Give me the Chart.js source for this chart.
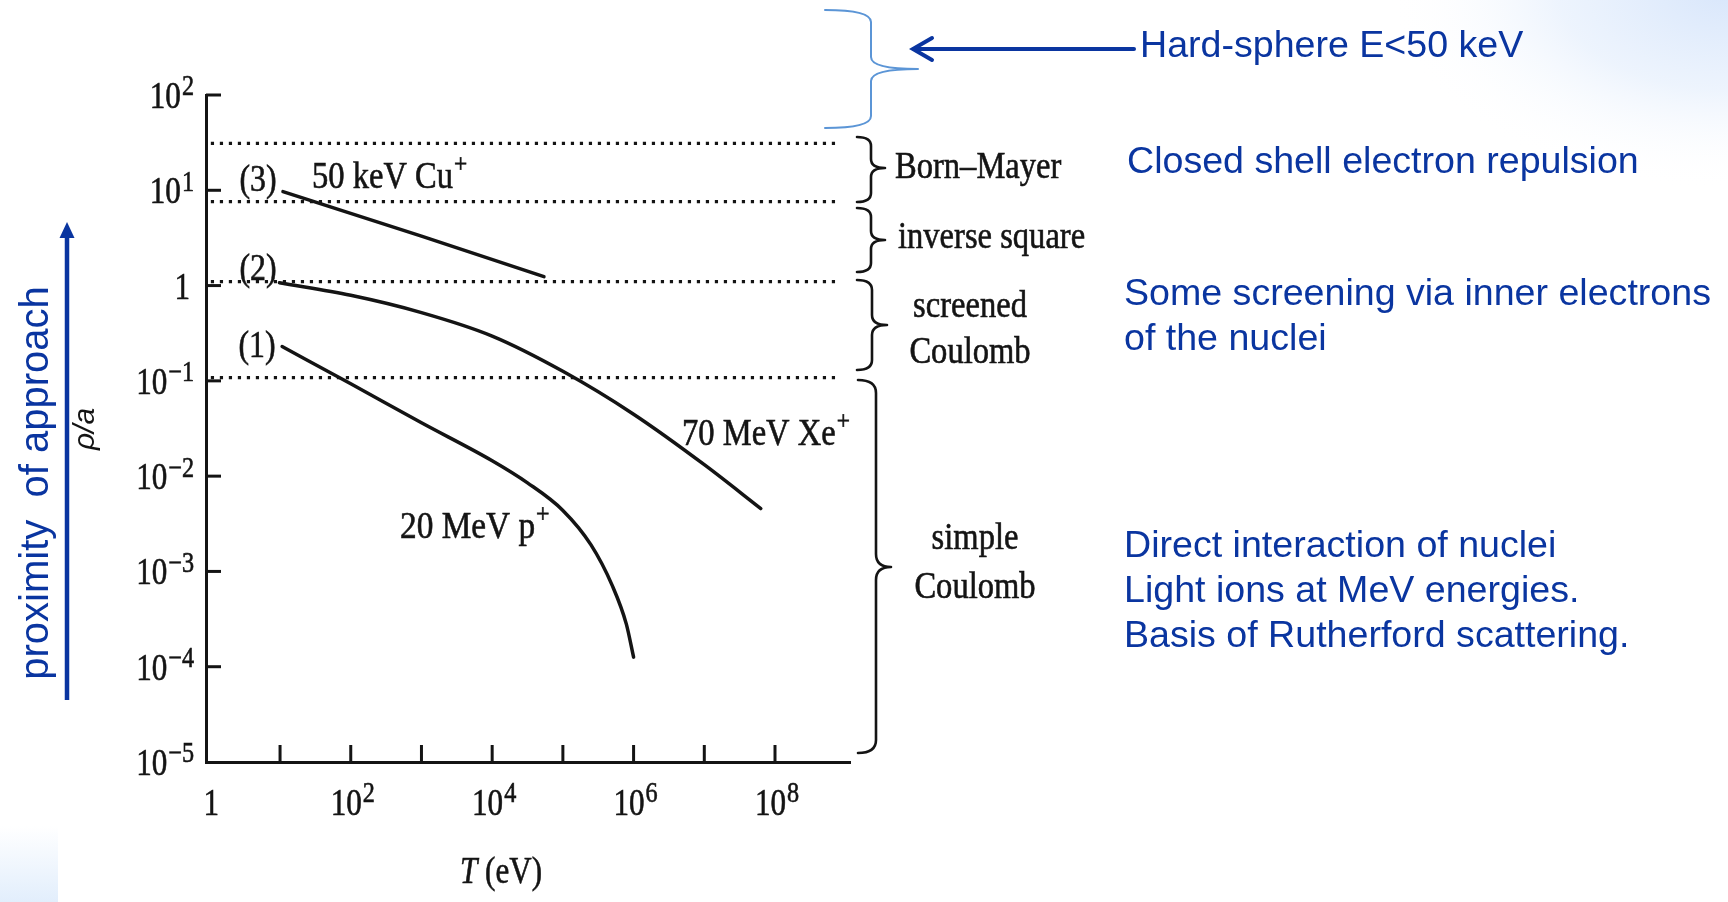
<!DOCTYPE html>
<html><head><meta charset="utf-8">
<script src="https://cdn.jsdelivr.net/npm/chart.js@4.4.1/dist/chart.umd.min.js"></script>
<style>html,body{margin:0;padding:0;background:#fff;overflow:hidden}canvas{display:block}</style>
</head><body>
<canvas id="c" width="1728" height="902"></canvas>
<script>
// ---------- data ----------
const cuT   = [11, 1000, 5.4e4];
const cuRho = [9.7, 3.3, 1.24];
const xeT   = [9.8, 100, 1000, 1e4, 1e5, 1e6, 1e7, 6.3e7];
const xeRho = [1.07, 0.79, 0.52, 0.295, 0.126, 0.0447, 0.0132, 0.00457];
const pT    = [10.7, 100, 1000, 1e4, 3.16e4, 1e5, 2.5e5, 5e5, 7.9e5, 1.0e6];
const pRho  = [0.229, 0.0933, 0.0363, 0.0145, 0.0085, 0.00437, 0.0019, 0.00071, 0.00028, 0.000126];
const regionBounds = [31, 7.6, 1.1, 0.108];
const boundStart = 1.05, boundEnd = 7.5e8;
const xTickValues = [1e1,1e2,1e3,1e4,1e5,1e6,1e7,1e8];
const yTickValues = [1e2,1e1,1,1e-1,1e-2,1e-3,1e-4];
const xLabelValues = [1, 1e2, 1e4, 1e6, 1e8];
const xLabelExps   = ['', '2', '4', '6', '8'];
const yLabelValues = [1e2, 1e1, 1, 1e-1, 1e-2, 1e-3, 1e-4, 1e-5];
const yLabelExps   = ['2', '1', '', '\u22121', '\u22122', '\u22123', '\u22124', '\u22125'];

const SERIF = "'Liberation Serif','Times New Roman',serif";
const SANS = "'Liberation Sans',Arial,sans-serif";
const INK = '#141414';
const BLUE = '#0a35a0';

function pts(xs, ys){ return xs.map((x,i)=>({x:x, y:ys[i]})); }

// rich text: segs [{t, sup, italic}]
function rich(ctx, segs, x, y, size, family, color, align, sx, stroke, supScale, supRise){
  const supSize = size*(supScale || 0.72);
  const rise = size*(supRise || 0.48);
  ctx.save();
  let w = 0;
  const fontOf = s => (s.italic?'italic ':'') + (s.sup?supSize:size) + 'px ' + family;
  const widths = segs.map(s=>{
    ctx.font = fontOf(s);
    const ww = ctx.measureText(s.t).width*sx + (s.sup ? 1 : 0); w += ww; return ww;
  });
  let x0 = align==='center' ? x - w/2 : (align==='right' ? x - w : x);
  ctx.fillStyle = color; ctx.strokeStyle = color; ctx.textBaseline = 'alphabetic'; ctx.textAlign='left';
  segs.forEach((s,i)=>{
    ctx.font = fontOf(s);
    ctx.save();
    ctx.translate(x0 + (s.sup ? 1 : 0), s.sup ? y - rise : y);
    ctx.scale(sx,1);
    ctx.fillText(s.t, 0, 0);
    if (stroke){ ctx.lineWidth = stroke; ctx.strokeText(s.t, 0, 0); }
    ctx.restore();
    x0 += widths[i];
  });
  ctx.restore();
  return w;
}

function brace(ctx, x0, xv, xp, y0, y1, ym, r, color, lw){
  ctx.save();
  ctx.strokeStyle = color; ctx.lineWidth = lw; ctx.lineCap='round'; ctx.lineJoin='round';
  ctx.beginPath();
  ctx.moveTo(x0, y0);
  ctx.quadraticCurveTo(xv, y0, xv, y0 + r);
  ctx.lineTo(xv, ym - r);
  ctx.quadraticCurveTo(xv, ym, xp, ym);
  ctx.quadraticCurveTo(xv, ym, xv, ym + r);
  ctx.lineTo(xv, y1 - r);
  ctx.quadraticCurveTo(xv, y1, x0, y1);
  ctx.stroke();
  ctx.restore();
}

const bgPlugin = {
  id: 'bg',
  beforeDraw(chart){
    const ctx = chart.ctx;
    ctx.save();
    ctx.fillStyle = '#fff'; ctx.fillRect(0,0,1728,902);
    ctx.save();
    ctx.translate(1728, -10); ctx.scale(1.7, 1);
    let g = ctx.createRadialGradient(0, 0, 0, 0, 0, 200);
    g.addColorStop(0, 'rgba(216,230,251,1)');
    g.addColorStop(0.5, 'rgba(234,242,253,0.85)');
    g.addColorStop(1, 'rgba(255,255,255,0)');
    ctx.fillStyle = g; ctx.fillRect(-260, 0, 260, 220);
    ctx.restore();
    g = ctx.createLinearGradient(0, 826, 0, 902);
    g.addColorStop(0, 'rgba(255,255,255,1)');
    g.addColorStop(1, 'rgba(226,238,252,1)');
    ctx.fillStyle = g; ctx.fillRect(0, 826, 58, 76);
    ctx.restore();
  }
};

const decoPlugin = {
  id: 'deco',
  afterDraw(chart){
    const ctx = chart.ctx;
    const xs = chart.scales.x, ys = chart.scales.y;
    const ca = chart.chartArea;
    ctx.save();
    // inward ticks
    ctx.strokeStyle = INK; ctx.lineWidth = 3; ctx.lineCap='butt';
    yTickValues.forEach(v=>{
      const py = ys.getPixelForValue(v);
      ctx.beginPath(); ctx.moveTo(ca.left, py); ctx.lineTo(ca.left+15, py); ctx.stroke();
    });
    xTickValues.forEach(v=>{
      const px = xs.getPixelForValue(v);
      ctx.beginPath(); ctx.moveTo(px, ca.bottom); ctx.lineTo(px, ca.bottom-17); ctx.stroke();
    });
    const SW = 0.6;
    // tick labels
    yLabelValues.forEach((v,i)=>{
      const py = ys.getPixelForValue(v);
      const segs = yLabelExps[i] ? [{t:'10'},{t:yLabelExps[i],sup:true}] : [{t:'1'}];
      rich(ctx, segs, yLabelExps[i] ? 194 : 190, py + 13, 37, SERIF, INK, 'right', 0.84, SW, 0.78, 0.34);
    });
    xLabelValues.forEach((v,i)=>{
      const px = xs.getPixelForValue(v);
      const segs = xLabelExps[i] ? [{t:'10'},{t:xLabelExps[i],sup:true}] : [{t:'1'}];
      rich(ctx, segs, px + 2, 815, 37, SERIF, INK, 'center', 0.84, SW, 0.78, 0.34);
    });
    // axis title
    rich(ctx, [{t:'T',italic:true},{t:' (eV)'}], 501, 883, 37, SERIF, INK, 'center', 0.84, SW);
    // curve labels
    rich(ctx, [{t:'(3)'}], 258, 191, 37, SERIF, INK, 'center', 0.86, SW);
    rich(ctx, [{t:'(2)'}], 258, 280, 37, SERIF, INK, 'center', 0.86, SW);
    rich(ctx, [{t:'(1)'}], 257, 357, 37, SERIF, INK, 'center', 0.86, SW);
    rich(ctx, [{t:'50 keV Cu'},{t:'+',sup:true}], 312, 188, 37, SERIF, INK, 'left', 0.88, SW, 0.72, 0.4);
    rich(ctx, [{t:'20 MeV p'},{t:'+',sup:true}], 400, 538, 37, SERIF, INK, 'left', 0.9, SW, 0.72, 0.4);
    rich(ctx, [{t:'70 MeV Xe'},{t:'+',sup:true}], 682, 445, 37, SERIF, INK, 'left', 0.88, SW, 0.72, 0.4);
    // region braces + names
    brace(ctx, 857, 871, 885, 137, 202, 168, 9, INK, 2.6);
    brace(ctx, 857, 871, 885, 208, 272, 240, 9, INK, 2.6);
    brace(ctx, 857, 872, 887, 280, 370, 325, 10, INK, 2.6);
    brace(ctx, 858, 876, 891, 380, 753, 567, 13, INK, 2.6);
    rich(ctx, [{t:'Born\u2013Mayer'}], 895, 178, 37, SERIF, INK, 'left', 0.88, SW);
    rich(ctx, [{t:'inverse square'}], 898, 248, 37, SERIF, INK, 'left', 0.88, SW);
    rich(ctx, [{t:'screened'}], 970, 317, 37, SERIF, INK, 'center', 0.88, SW);
    rich(ctx, [{t:'Coulomb'}], 970, 363, 37, SERIF, INK, 'center', 0.88, SW);
    rich(ctx, [{t:'simple'}], 975, 549, 37, SERIF, INK, 'center', 0.88, SW);
    rich(ctx, [{t:'Coulomb'}], 975, 598, 37, SERIF, INK, 'center', 0.88, SW);
    // hard-sphere brace & arrow
    brace(ctx, 825, 871, 918, 10, 128, 69, 12, '#5b95d6', 2);
    ctx.strokeStyle = BLUE; ctx.lineWidth = 4; ctx.lineCap='round';
    ctx.beginPath(); ctx.moveTo(1134, 49); ctx.lineTo(914, 49); ctx.stroke();
    ctx.beginPath(); ctx.moveTo(932, 38); ctx.lineTo(913, 49); ctx.lineTo(932, 60); ctx.stroke();
    // blue annotations
    const BS = 37.6;
    rich(ctx, [{t:'Hard-sphere E<50 keV'}], 1140, 57, BS, SANS, BLUE, 'left', 1);
    rich(ctx, [{t:'Closed shell electron repulsion'}], 1127, 173, BS, SANS, BLUE, 'left', 1);
    rich(ctx, [{t:'Some screening via inner electrons'}], 1124, 305, BS, SANS, BLUE, 'left', 1);
    rich(ctx, [{t:'of the nuclei'}], 1124, 350, BS, SANS, BLUE, 'left', 1);
    rich(ctx, [{t:'Direct interaction of nuclei'}], 1124, 557, BS, SANS, BLUE, 'left', 1);
    rich(ctx, [{t:'Light ions at MeV energies.'}], 1124, 602, BS, SANS, BLUE, 'left', 1);
    rich(ctx, [{t:'Basis of Rutherford scattering.'}], 1124, 647, BS, SANS, BLUE, 'left', 1);
    // left vertical arrow and titles
    ctx.strokeStyle = BLUE; ctx.lineWidth = 4.5; ctx.lineCap='butt';
    ctx.beginPath(); ctx.moveTo(67, 700); ctx.lineTo(67, 234); ctx.stroke();
    ctx.fillStyle = BLUE;
    ctx.beginPath(); ctx.moveTo(67, 222); ctx.lineTo(59.5, 238); ctx.lineTo(74.5, 238); ctx.closePath(); ctx.fill();
    ctx.save();
    ctx.translate(48, 483); ctx.rotate(-Math.PI/2);
    rich(ctx, [{t:'proximity  of approach'}], 0, 0, 40, SANS, BLUE, 'center', 1);
    ctx.restore();
    ctx.save();
    ctx.translate(94, 429); ctx.rotate(-Math.PI/2);
    rich(ctx, [{t:'\u03C1/a', italic:true}], 0, 0, 30, SANS, INK, 'center', 1);
    ctx.restore();
    ctx.restore();
  }
};

const curveStyle = {borderColor: INK, borderWidth: 3.5, pointRadius: 0, fill: false, borderCapStyle:'round'};
const datasets = [
  Object.assign({label:'50 keV Cu+', data: pts(cuT, cuRho), tension: 0}, curveStyle),
  Object.assign({label:'70 MeV Xe+', data: pts(xeT, xeRho), cubicInterpolationMode:'monotone'}, curveStyle),
  Object.assign({label:'20 MeV p+', data: pts(pT, pRho), cubicInterpolationMode:'monotone'}, curveStyle)
];
regionBounds.forEach((v,i)=>{
  datasets.push({label:'bound'+i, data: pts([boundStart, boundEnd],[v, v]), borderColor: INK,
    borderWidth: 3.2, borderDash: [3.2, 5.8], borderCapStyle:'butt', pointRadius: 0, fill:false});
});

new Chart(document.getElementById('c'), {
  type: 'line',
  data: { datasets },
  options: {
    responsive: false, animation: false, devicePixelRatio: 1,
    layout: { padding: { left: 206, top: 95, right: 878, bottom: 140 } },
    plugins: { legend: { display: false }, tooltip: { enabled: false } },
    scales: {
      x: { type: 'logarithmic', min: 0.897, max: 1.15e9,
           ticks: { display: false }, grid: { display: false },
           border: { display: true, width: 3, color: INK },
           afterFit(s){ s.height = 0; } },
      y: { type: 'logarithmic', min: 1e-5, max: 100,
           ticks: { display: false }, grid: { display: false },
           border: { display: true, width: 3, color: INK },
           afterFit(s){ s.width = 0; } }
    }
  },
  plugins: [bgPlugin, decoPlugin]
});
</script>
</body></html>
